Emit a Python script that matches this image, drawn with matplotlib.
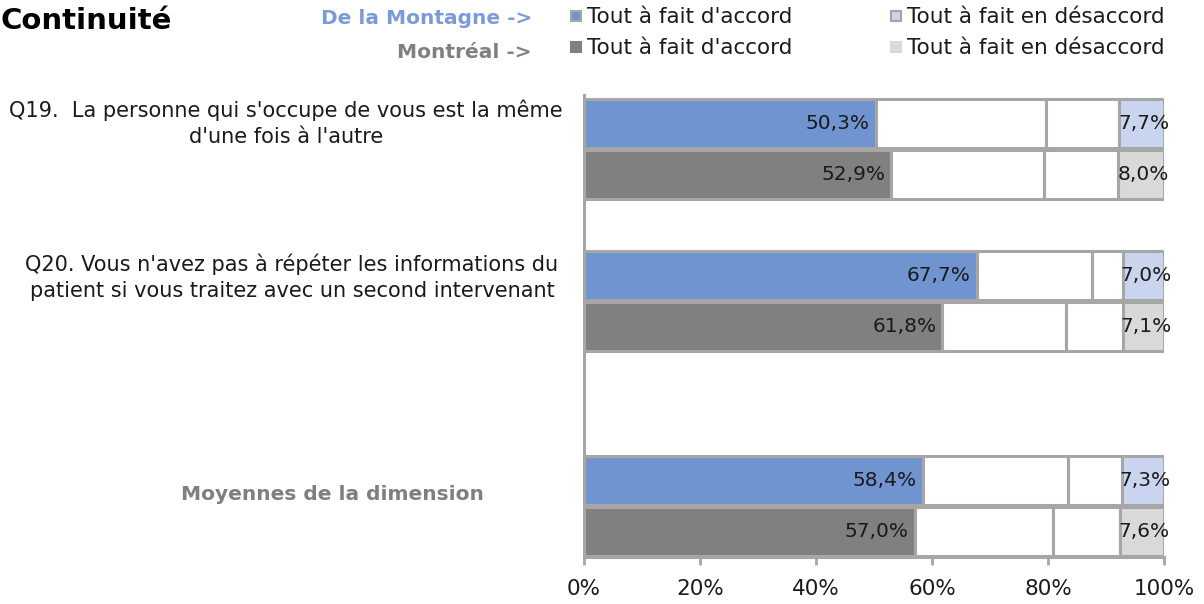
import matplotlib.pyplot as plt
from matplotlib.patches import Rectangle
from matplotlib.transforms import blended_transform_factory

# Répartition des réponses (%) : tout à fait d'accord, plutôt d'accord,
# plutôt en désaccord, tout à fait en désaccord
questions = [
    "Q19.  La personne qui s'occupe de vous est la même\nd'une fois à l'autre",
    "Q20. Vous n'avez pas à répéter les informations du\npatient si vous traitez avec un second intervenant",
    "Moyennes de la dimension",
]
montagne_accord = [50.3, 67.7, 58.4]
montagne_plutot_accord = [29.4, 19.8, 25.1]
montagne_plutot_desaccord = [12.6, 5.5, 9.2]
montagne_desaccord = [7.7, 7.0, 7.3]

montreal_accord = [52.9, 61.8, 57.0]
montreal_plutot_accord = [26.4, 21.3, 23.8]
montreal_plutot_desaccord = [12.7, 9.8, 11.6]
montreal_desaccord = [8.0, 7.1, 7.6]

xticks = [0, 20, 40, 60, 80, 100]

BLUE = "#7094d0"
BLUE_LIGHT = "#c9d5ee"
GREY = "#808080"
GREY_LIGHT = "#d9d9d9"
EDGE = "#a6a6a6"

W, H = 1204, 604
fig = plt.figure(figsize=(W / 100, H / 100), dpi=100)
plt.rcParams['font.family'] = ['DejaVu Sans']

ax = fig.add_axes([584 / W, 47 / H, 580 / W, 462 / H])

group_y = [1.08, 4.12, 8.22]
label_y = [0.56, 3.64, 8.0]
label_x = [286, 292, 332]
bar_h = 0.98
off = 0.51


def stacked(y, parts, colors):
    left = 0
    for val, col in zip(parts, colors):
        ax.barh(y, val, left=left, height=bar_h, color=col,
                edgecolor=EDGE, linewidth=2.2)
        left += val


def fmt(v):
    return f"{v:.1f}%".replace(".", ",")


for i in range(len(questions)):
    y1 = group_y[i] - off
    y2 = group_y[i] + off
    p1 = [montagne_accord[i], montagne_plutot_accord[i],
          montagne_plutot_desaccord[i], montagne_desaccord[i]]
    p2 = [montreal_accord[i], montreal_plutot_accord[i],
          montreal_plutot_desaccord[i], montreal_desaccord[i]]
    stacked(y1, p1, [BLUE, "white", "white", BLUE_LIGHT])
    stacked(y2, p2, [GREY, "white", "white", GREY_LIGHT])
    for y, p in ((y1, p1), (y2, p2)):
        ax.text(p[0] - 1.0, y, fmt(p[0]), ha="right", va="center",
                fontsize=14.5, color="#1a1a1a")
        ax.text(100 - p[3] / 2 + 0.4, y, fmt(p[3]), ha="center", va="center",
                fontsize=14.5, color="#1a1a1a", clip_on=False)

ax.set_xlim(0, 100)
ax.set_ylim(9.24, 0)
ax.set_xticks(xticks)
ax.set_xticklabels([f"{t}%" for t in xticks], fontsize=15.5, color="#1a1a1a")
ax.tick_params(axis="x", length=6, width=2, color=EDGE, pad=10)
ax.set_yticks([])
for side in ("top", "right"):
    ax.spines[side].set_visible(False)
for side in ("left", "bottom"):
    ax.spines[side].set_color(EDGE)
    ax.spines[side].set_linewidth(2.2)

# libellés des questions
trans = blended_transform_factory(fig.transFigure, ax.transData)
for i, q in enumerate(questions):
    bold = i == len(questions) - 1
    ax.text(label_x[i] / W, label_y[i], q, transform=trans, ha="center",
            va="center", fontsize=15 if not bold else 14.5,
            fontweight="bold" if bold else "normal",
            color="#7f7f7f" if bold else "#1a1a1a", linespacing=1.35,
            clip_on=False)

# titre et légende
fig.text(1 / W, 1 - 21 / H, "Continuité", fontsize=21, fontweight="bold",
         ha="left", va="center")
fig.text(532 / W, 1 - 19 / H, "De la Montagne ->", fontsize=14.5,
         fontweight="bold", color="#7a9bd8", ha="right", va="center")
fig.text(532 / W, 1 - 52 / H, "Montréal ->", fontsize=14.5,
         fontweight="bold", color="#808080", ha="right", va="center")

legend_items = [
    (576, 16, BLUE, EDGE, "Tout à fait d'accord"),
    (896, 16, BLUE_LIGHT, EDGE, "Tout à fait en désaccord"),
    (576, 47, GREY, GREY, "Tout à fait d'accord"),
    (896, 47, GREY_LIGHT, GREY_LIGHT, "Tout à fait en désaccord"),
]
for x, y, fc, ec, txt in legend_items:
    fig.add_artist(Rectangle(((x - 5) / W, 1 - (y + 5) / H), 10 / W, 10 / H,
                             transform=fig.transFigure, facecolor=fc,
                             edgecolor=ec, linewidth=1.5))
    fig.text((x + 11) / W, 1 - (y + 1) / H, txt, fontsize=15.5,
             color="#1a1a1a", ha="left", va="center")

fig.savefig("out.png", dpi=100)
